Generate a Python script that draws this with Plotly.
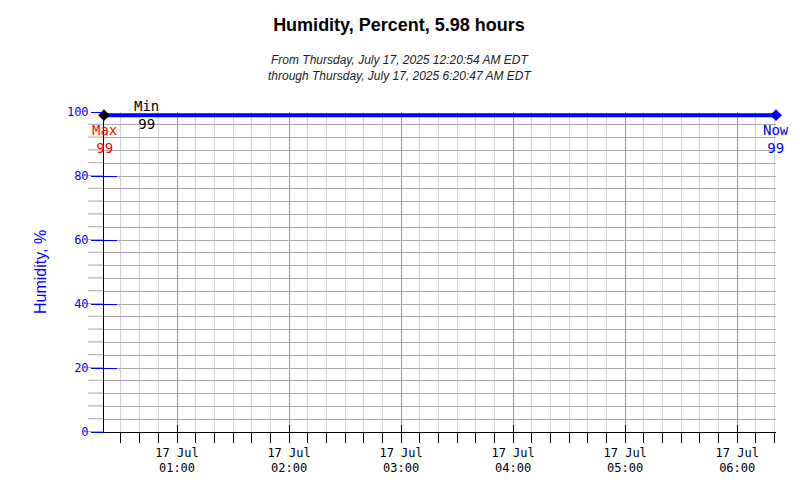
import plotly.graph_objects as go

# ---- data ----
times = ["2025-07-17 00:20:54", "2025-07-17 01:20:50", "2025-07-17 02:20:52",
         "2025-07-17 03:20:49", "2025-07-17 04:20:51", "2025-07-17 05:20:48",
         "2025-07-17 06:20:47"]
humidity = [99, 99, 99, 99, 99, 99, 99]

x_start = "2025-07-17 00:20:54"
x_end = "2025-07-17 06:20:47"
max_time, max_val = "2025-07-17 00:20:54", 99
min_time, min_val = "2025-07-17 00:20:54", 99
now_time, now_val = "2025-07-17 06:20:47", 99

y_tick_vals = [0, 20, 40, 60, 80, 100]
y_grid_levels = list(range(0, 101, 4))

title_text = "Humidity, Percent, 5.98 hours"
subtitle_lines = ["From Thursday, July 17, 2025 12:20:54 AM EDT",
                  "through Thursday, July 17, 2025 6:20:47 AM EDT"]
y_title = "Humidity, %"

MONO = "DejaVu Sans Mono"
SANS = "Liberation Sans, Arial, sans-serif"
BLUE = "#0000ff"

# page body has an 8px margin, so the figure is sized/placed to compensate
W, H = 792, 492
L, R, T, B = 96, 24, 104, 68
pw = W - L - R
ph = H - T - B
AX_Y = T + ph + 8  # page y of the x axis line

fig = go.Figure()
fig.add_trace(go.Scatter(x=times, y=humidity, mode="lines",
                         line=dict(color=BLUE, width=4), hoverinfo="skip"))
fig.add_trace(go.Scatter(x=[max_time], y=[max_val], mode="markers", cliponaxis=False,
                         marker=dict(symbol="diamond", size=9, color="black")))
fig.add_trace(go.Scatter(x=[now_time], y=[now_val], mode="markers", cliponaxis=False,
                         marker=dict(symbol="diamond", size=9, color=BLUE)))
# invisible traces for overlay axes (outer tick parts and tick labels)
fig.add_trace(go.Scatter(x=[x_start], y=[0], xaxis="x2", yaxis="y2", mode="markers",
                         marker=dict(opacity=0), hoverinfo="skip"))
fig.add_trace(go.Scatter(x=[x_start], y=[0], xaxis="x3", yaxis="y", mode="markers",
                         marker=dict(opacity=0), hoverinfo="skip"))

shapes = []
for v in y_grid_levels:
    shapes.append(dict(type="line", xref="paper", x0=-16 / pw, x1=0,
                       yref="y", ysizemode="pixel", yanchor=v, y0=0.5, y1=0.5,
                       line=dict(color="#aaaaaa", width=1), layer="below"))

common_x = dict(type="date", range=[x_start, x_end], dtick=3600000,
                tick0="2025-07-17 00:00:00", zeroline=False)

fig.update_layout(
    width=W, height=H,
    margin=dict(l=L, r=R, t=T, b=B),
    plot_bgcolor="white", paper_bgcolor="white",
    showlegend=False,
    title=dict(text="<b>" + title_text + "</b>", x=391 / W, xref="container", xanchor="center",
               y=1 - 17 / H, yref="container", yanchor="middle",
               font=dict(family=SANS, size=18, color="black")),
    # main x axis: line, grid, inner part of hour ticks, outer minor ticks
    xaxis=dict(**common_x, showline=True, linecolor="black", linewidth=1,
               ticks="inside", ticklen=7, tickcolor="black", tickwidth=1,
               showticklabels=False,
               showgrid=True, gridcolor="#999999", gridwidth=1,
               minor=dict(dtick=600000, tick0="2025-07-17 00:00:00", ticks="outside",
                          ticklen=10, tickcolor="black", tickwidth=1,
                          showgrid=True, gridcolor="#d3d3d3", gridwidth=1)),
    # overlay: outer part of hour ticks + date line of labels
    xaxis2=dict(**common_x, overlaying="x", anchor="y2", side="bottom",
                ticks="outside", ticklen=10, tickcolor="black", tickwidth=1,
                tickformat="%d %b", tickfont=dict(family=MONO, size=12, color="black"),
                ticklabelstandoff=0, showgrid=False, showline=False),
    # overlay: time line of labels
    xaxis3=dict(**common_x, overlaying="x", anchor="y", side="bottom",
                ticks="outside", ticklen=10, tickcolor="rgba(0,0,0,0)",
                tickformat="%H:%M", tickfont=dict(family=MONO, size=12, color="black"),
                ticklabelstandoff=15, showgrid=False, showline=False),
    # main y axis: line, grid, inner part of ticks
    yaxis=dict(range=[0, 100], tickvals=y_tick_vals, showline=True, linecolor="black",
               linewidth=1, ticks="inside", ticklen=13, tickcolor=BLUE, tickwidth=1,
               showticklabels=False,
               showgrid=True, gridcolor="#aaaaaa", gridwidth=1, zeroline=False,
               minor=dict(dtick=4, showgrid=True, gridcolor="#aaaaaa", gridwidth=1)),
    # overlay: outer part of ticks + labels
    yaxis2=dict(overlaying="y", anchor="x2", side="left", range=[0, 100],
                tickvals=y_tick_vals, ticks="outside", ticklen=12, tickcolor=BLUE,
                tickwidth=1, tickfont=dict(family=MONO, size=12, color=BLUE),
                showgrid=False, showline=False, zeroline=False),
    shapes=shapes,
)

annotations = [
    dict(text="<i>" + "<br>".join(subtitle_lines) + "</i>", xref="paper", yref="paper",
         x=(400 - 104) / pw, y=(AX_Y - 68) / ph, xanchor="center", yanchor="middle",
         showarrow=False, font=dict(family=SANS, size=12, color="#222222")),
    dict(text=y_title, textangle=-90, xref="paper", yref="paper",
         x=(40 - 104) / pw, y=0.5, xanchor="center", yanchor="middle",
         showarrow=False, font=dict(family=SANS, size=16, color=BLUE)),
    dict(text=f"Max<br>{max_val}", x=max_time, y=max_val, xref="x", yref="y",
         xanchor="center", yanchor="top", yshift=-5, showarrow=False,
         font=dict(family=MONO, size=14, color="#ff0000")),
    dict(text=f"Min<br>{min_val}", x=min_time, y=min_val, xref="x", yref="y",
         xanchor="center", yanchor="middle", xshift=42, showarrow=False,
         font=dict(family=MONO, size=14, color="black")),
    dict(text=f"Now<br>{now_val}", x=now_time, y=now_val, xref="x", yref="y",
         xanchor="center", yanchor="top", yshift=-5, showarrow=False,
         font=dict(family=MONO, size=14, color=BLUE)),
]
fig.update_layout(annotations=annotations)

fig.write_html("out.html")
